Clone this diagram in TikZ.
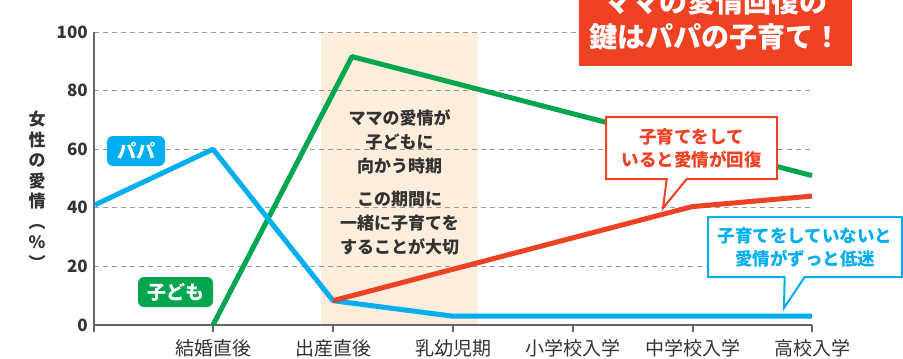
\documentclass[tikz,border=0pt]{standalone}
\usepackage{fontspec}
\setmainfont{Noto Sans CJK JP}
\usepackage{tikz}
\usetikzlibrary{shapes.callouts}
\definecolor{papablue}{HTML}{00AEEF}
\definecolor{kidgreen}{HTML}{00A550}
\definecolor{momred}{HTML}{EF4123}
\definecolor{bandpeach}{HTML}{FDEDDC}
\definecolor{axisgray}{HTML}{666666}
\definecolor{gridgray}{HTML}{9A9A9A}
\definecolor{inkgray}{HTML}{333333}
\tikzset{
  gridline/.style={gridgray, line width=1pt, dash pattern=on 5pt off 4pt},
  axisline/.style={axisgray, line width=1.5pt},
  dataline/.style={line width=5pt, line join=round},
  ticklabel/.style={inkgray, font=\bfseries\fontsize{17}{17}\selectfont, anchor=east, inner sep=0pt},
  xlabel/.style={inkgray, font=\fontsize{19}{19}\selectfont, inner sep=0pt},
  tagbox/.style={rounded corners=6pt, text=white, font=\bfseries\fontsize{19}{19}\selectfont, minimum height=30pt, inner sep=0pt},
  bandtext/.style={inkgray, align=center, font=\bfseries\fontsize{17}{24}\selectfont, inner sep=0pt},
  balloon/.style={rectangle callout, draw, fill=white, line width=2pt, align=center, font=\bfseries\fontsize{17.5}{23}\selectfont, callout pointer width=20pt, inner sep=0pt},
  titlebox/.style={fill=momred, text=white, align=center, font=\bfseries\fontsize{28}{35}\selectfont, minimum width=273pt, minimum height=93pt, inner sep=0pt},
}
\begin{document}
\begin{tikzpicture}[x=1pt, y=-1pt]
\useasboundingbox (0,0) rectangle (903,359);
\clip (0,0) rectangle (903,359);
\fill[bandpeach] (321,32) rectangle (478,325);
\begin{scope}[shift={(0,325)}, y=2.93pt]
\foreach \v in {20,40,60,80,100}
  \draw[gridline] (94,\v) -- (812,\v);
\foreach \v in {0,20,40,60,80,100}
  \node[ticklabel] (y\v) at (88,\v) {\v};
\draw[axisline] (94,100) -- (94,0) -- (812,0);
\foreach \x in {94,213,333,453,573,693,812}
  \draw[axisline] (\x,0) -- ++(0,-7pt);
\foreach \x/\t/\n in {213/結婚直後/marry,333/出産直後/birth,453/乳幼児期/infant,573/小学校入学/primary,693/中学校入学/middle,812/高校入学/high}
  \node[xlabel] (\n) at (\x,0) [yshift=-23pt] {\t};
\coordinate (papa0) at (95,41);
\coordinate (papa1) at (213,60);
\coordinate (papa2) at (333,8.3);
\coordinate (papa3) at (453,3);
\coordinate (papa4) at (812,3);
\coordinate (kid0) at (213,0);
\coordinate (kid1) at (352,91.6);
\coordinate (kid2) at (812,51);
\coordinate (mama1) at (692,40.4);
\coordinate (mama2) at (812,44);
\draw[dataline, kidgreen] (kid0) -- (kid1) -- (kid2);
\draw[dataline, papablue] (papa0) -- (papa1) -- (papa2) -- (papa3) -- (papa4);
\draw[dataline, momred] (papa2) -- (mama1) -- (mama2);
\end{scope}
\node[inkgray, align=center, font=\bfseries\fontsize{17}{20.5}\selectfont, inner sep=0pt] (ytitle) at (37,190) {女\\性\\の\\愛\\情\\︵\\\%\\︶};
\node[tagbox, fill=papablue, minimum width=58pt] (papatag) at (136,151) {パパ};
\node[tagbox, fill=kidgreen, minimum width=75pt] (kidtag) at (175.5,292) {子ども};
\node[bandtext] (focus) at (399.5,142) {ママの愛情が\\子どもに\\向かう時期};
\node[bandtext] (advice) at (399.5,223.5) {この期間に\\一緒に子育てを\\することが大切};
\coordinate (gaintip) at (663,208);
\coordinate (losstip) at (784,308);
\node[balloon, draw=momred, text=momred, minimum width=171pt, minimum height=62pt, callout absolute pointer=(gaintip)] (gain) at (691.5,148) {子育てをして\\いると愛情が回復};
\node[balloon, draw=papablue, text=papablue, minimum width=194pt, minimum height=60pt, callout absolute pointer=(losstip)] (loss) at (805,247) {子育てをしていないと\\愛情がずっと低迷};
\node[titlebox] (headline) at (715.5,19.5) {ママの愛情回復の\\鍵はパパの子育て！};
\end{tikzpicture}
\end{document}
